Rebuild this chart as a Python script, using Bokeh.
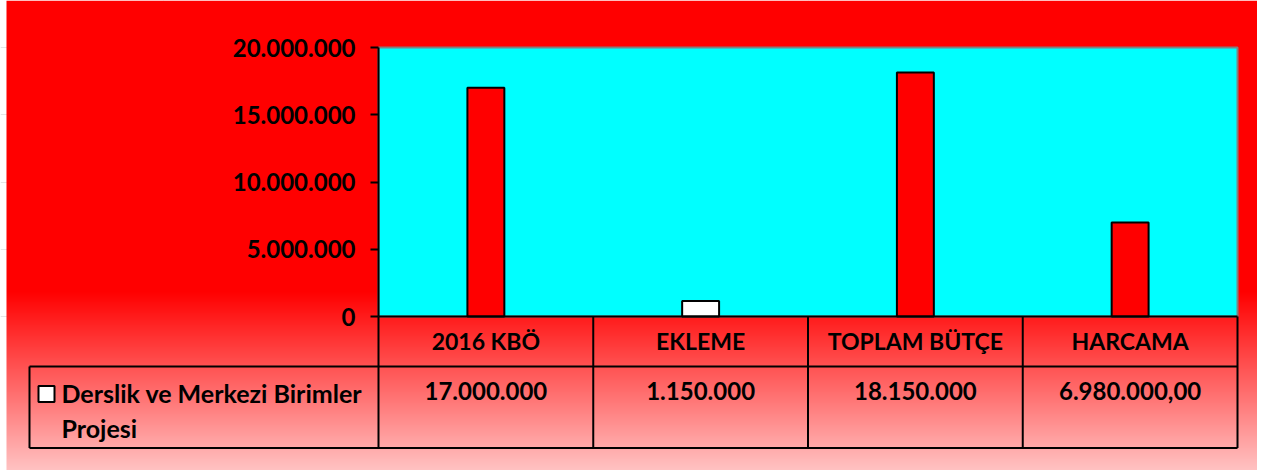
import numpy as np
from bokeh.plotting import figure
from bokeh.models import Range1d, LinearAxis, FixedTicker, CustomJSTickFormatter, ColumnDataSource
from bokeh.core.properties import value
from bokeh.embed import file_html
from bokeh.resources import INLINE

# ---------------- data ----------------
categories = ["2016 KBÖ", "EKLEME", "TOPLAM BÜTÇE", "HARCAMA"]
values = [17000000, 1150000, 18150000, 6980000]
value_labels = ["17.000.000", "1.150.000", "18.150.000", "6.980.000,00"]
bar_colors = ["#ff0000", "#ffffff", "#ff0000", "#ff0000"]
series_lines = ["Derslik ve Merkezi Birimler", "Projesi"]
legend_color = "#ffffff"
y_ticks = [0, 5000000, 10000000, 15000000, 20000000]
y_max = 20000000

# ---------------- layout (pixels) ----------------
W, H = 1257, 470
BG_LEFT = 6
PL, PR, PT, PB = 378, 1237, 47, 316     # plot area
TL = 29                                   # table left edge
ROW1, ROW2 = 366, 447.5                   # table row lines
TXT_DY = -10                              # text baseline correction
n = len(categories)
ux = (PR - PL) / n
uy = (PB - PT) / y_max


def X(px):
    return (px - PL) / ux


def Y(py):
    return (PB - py) / uy


x0, x1 = X(0), X(W)
y0, y1 = Y(H), Y(0)

FONT = value("Lato")

p = figure(width=W, height=H, x_range=Range1d(x0, x1), y_range=Range1d(y0, y1),
           x_axis_location=None, y_axis_location=None, toolbar_location=None,
           output_backend="svg", min_border=0)
p.outline_line_color = None
p.background_fill_color = "#ffffff"
p.border_fill_color = "#ffffff"

# background gradient (red -> pale pink towards the bottom)
img = np.empty((H, 1), dtype=np.uint32)
view = img.view(dtype=np.uint8).reshape((H, 1, 4))
for r in range(H):
    py = H - r - 0.5
    t = min(max((py - 291) / (470 - 291), 0.0), 1.0)
    gb = int(round(195 * t))
    view[r, 0, 0] = 255
    view[r, 0, 1] = gb
    view[r, 0, 2] = gb
    view[r, 0, 3] = 255
p.image_rgba(image=[img], x=X(BG_LEFT), y=y0, dw=x1 - X(BG_LEFT), dh=y1 - y0)

# plot area
p.quad(left=0, right=n, bottom=0, top=y_max, fill_color="#00ffff",
       line_color="#808080", line_width=2)

# bars
xs = [i + 0.5 for i in range(n)]
src = ColumnDataSource(dict(x=xs, top=values, color=bar_colors))
p.vbar(x="x", top="top", bottom=0, width=0.172, fill_color="color",
       line_color="black", line_width=2, source=src)

# data table grid
hx0 = [0, X(TL), X(TL)]
hx1 = [n, n, n]
hy = [0, Y(ROW1), Y(ROW2)]
p.segment(x0=hx0, y0=hy, x1=hx1, y1=hy, line_color="black", line_width=2)
vx = [float(i) for i in range(n + 1)] + [X(TL)]
vy0 = [0] * (n + 1) + [Y(ROW1)]
vy1 = [Y(ROW2)] * (n + 2)
p.segment(x0=vx, y0=vy0, x1=vx, y1=vy1, line_color="black", line_width=2)

# header (category names) and values
p.text(x=xs, y=[Y(350 + TXT_DY)] * n, text=categories, text_font=FONT,
       text_font_style="bold", text_font_size="23px", text_align="center",
       text_baseline="alphabetic", text_color="black")
p.text(x=xs, y=[Y(400 + TXT_DY)] * n, text=value_labels, text_font=FONT,
       text_font_style="bold", text_font_size="24px", text_align="center",
       text_baseline="alphabetic", text_color="black")

# legend key + series name
p.rect(x=[X(46)], y=[Y(393.5)], width=16, height=16, width_units="screen",
       height_units="screen", fill_color=legend_color, line_color="black", line_width=2)
p.text(x=[X(61)] * len(series_lines), y=[Y(402 + TXT_DY), Y(437.5 + TXT_DY)],
       text=series_lines, text_font=FONT, text_font_style="bold", text_font_size="25px",
       text_align="left", text_baseline="alphabetic", text_color="black")

# value axis
yaxis = LinearAxis(fixed_location=0, bounds=(0, y_max), ticker=FixedTicker(ticks=y_ticks),
                   formatter=CustomJSTickFormatter(
                       code=r"return Math.round(tick).toString().replace(/\B(?=(\d{3})+(?!\d))/g, '.');"))
yaxis.axis_line_color = "black"
yaxis.axis_line_width = 2
yaxis.major_tick_line_color = "black"
yaxis.major_tick_line_width = 2
yaxis.major_tick_out = 8
yaxis.major_tick_in = 0
yaxis.minor_tick_out = 0
yaxis.minor_tick_in = 0
yaxis.major_label_standoff = 15
yaxis.major_label_text_font = "Lato"
yaxis.major_label_text_font_style = "bold"
yaxis.major_label_text_font_size = "24px"
yaxis.major_label_text_color = "black"
p.add_layout(yaxis, "left")

open("out.html", "w").write(file_html(p, INLINE))
